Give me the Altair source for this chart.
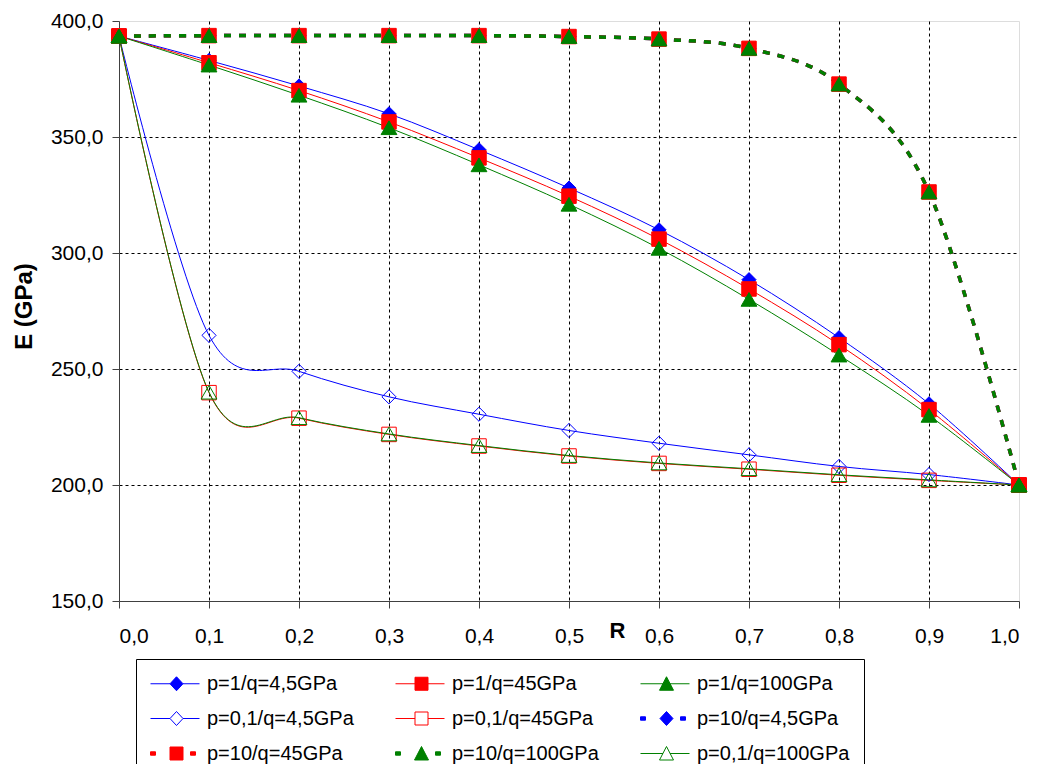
import altair as alt
import pandas as pd

# ---------------- data ----------------
R = [0.0, 0.1, 0.2, 0.3, 0.4, 0.5, 0.6, 0.7, 0.8, 0.9, 1.0]

series_names = [
    "p=1/q=4,5GPa", "p=1/q=45GPa", "p=1/q=100GPa",
    "p=0,1/q=4,5GPa", "p=0,1/q=45GPa", "p=10/q=4,5GPa",
    "p=10/q=45GPa", "p=10/q=100GPa", "p=0,1/q=100GPa",
]

E_p1_q4_5 = [393.5, 383.0, 372.0, 360.0, 344.5, 328.0, 310.0, 288.5, 263.5, 235.0, 200.0]
E_p1_q45 = [393.5, 382.0, 370.0, 356.5, 341.0, 324.5, 306.0, 284.5, 260.5, 232.5, 200.0]
E_p1_q100 = [393.5, 381.0, 368.0, 354.0, 338.0, 321.0, 302.0, 280.0, 256.0, 230.0, 200.0]
E_p01_q4_5 = [393.5, 264.5, 249.0, 238.0, 230.5, 223.5, 218.0, 213.0, 208.0, 204.5, 200.0]
E_p01_q45 = [393.5, 239.8, 228.8, 221.8, 216.8, 212.5, 209.3, 206.8, 204.2, 202.0, 200.0]
E_p10_q4_5 = [393.5, 393.7, 393.7, 393.7, 393.7, 393.3, 392.2, 388.2, 372.8, 326.3, 200.0]
E_p10_q45 = [393.5, 393.7, 393.7, 393.7, 393.7, 393.3, 392.2, 388.2, 372.8, 326.3, 200.0]
E_p10_q100 = [393.5, 393.7, 393.7, 393.7, 393.7, 393.3, 392.2, 388.2, 372.8, 326.3, 200.0]
E_p01_q100 = [393.5, 240.0, 229.0, 222.0, 217.0, 212.7, 209.5, 207.0, 204.4, 202.2, 200.0]

series_values = [E_p1_q4_5, E_p1_q45, E_p1_q100, E_p01_q4_5, E_p01_q45,
                 E_p10_q4_5, E_p10_q45, E_p10_q100, E_p01_q100]

x_ticks = [0.0, 0.1, 0.2, 0.3, 0.4, 0.5, 0.6, 0.7, 0.8, 0.9, 1.0]
y_ticks = [150, 200, 250, 300, 350, 400]

# ---------------- table built from the arrays ----------------
rows = []
for k, (name, vals) in enumerate(zip(series_names, series_values)):
    p = name.split("/")[0].replace("p=", "")
    q = name.split("/")[1].replace("q=", "").replace("GPa", "")
    for r, e in zip(R, vals):
        rows.append({"R": r, "E": e, "series": name, "p": p, "q": q, "k": k})
df = pd.DataFrame(rows)

# ---------------- styles (scale ranges) ----------------
BLUE, RED, GREEN = "#0000FF", "#FF0000", "#008000"
colors = [BLUE, RED, GREEN, BLUE, RED, BLUE, RED, GREEN, GREEN]
fills = [BLUE, RED, GREEN, "transparent", "transparent", BLUE, RED, GREEN, "transparent"]

# legend symbols: line segment + marker (custom SVG paths, 1 unit = sqrt(size)/2 px)
LINE_D = "M-1,0L0.95,0M2.25,0L3.9,0"
LINE_S = "M-1,0L0.95,0M2.25,0L3.9,0"
LINE_T = "M-1,0L1.25,0M1.95,0L3.9,0"
DIAM = "M1.6,-0.7L2.25,0L1.6,0.7L0.95,0Z"
SQR = "M0.95,-0.65L2.25,-0.65L2.25,0.65L0.95,0.65Z"
TRI = "M1.6,-0.7L2.3,0.65L0.9,0.65Z"
DASHES = "M-1,-0.17L-0.5,-0.17L-0.5,0.17L-1,0.17ZM3.0,-0.17L3.5,-0.17L3.5,0.17L3.0,0.17Z"
shapes = [
    LINE_D + DIAM, LINE_S + SQR, LINE_T + TRI,
    LINE_D + DIAM, LINE_S + SQR, DASHES + DIAM,
    DASHES + SQR, DASHES + TRI, LINE_T + TRI,
]

FONT = "Liberation Sans"

stroke_scale = alt.Scale(domain=series_names, range=colors)
fill_scale = alt.Scale(domain=series_names, range=fills)

xaxis = alt.Axis(
    values=x_ticks,
    labelExpr="replace(format(datum.value, '.1f'), '.', ',')",
    labelFont=FONT, labelFontSize=21, labelColor="black", labelPadding=17,
    tickSize=7, tickColor="#404040", domainColor="#404040", domainWidth=1,
    grid=True, gridColor="black", gridDash=[3, 3], gridWidth=1,
    gridOpacity={"condition": {"test": "datum.value <= 0.001 || datum.value >= 0.999", "value": 0}, "value": 1},
    title="R", titleFont=FONT, titleFontSize=22, titleFontWeight="bold", titleColor="black",
    titleX=498, titleY=36, titleBaseline="alphabetic", titleAlign="center",
)
yaxis = alt.Axis(
    values=y_ticks,
    labelExpr="replace(format(datum.value, '.1f'), '.', ',')",
    labelFont=FONT, labelFontSize=21, labelColor="black", labelPadding=9,
    tickSize=7, tickColor="#404040", domainColor="#404040", domainWidth=1,
    grid=True, gridColor="black", gridDash=[3, 3], gridWidth=1,
    gridOpacity={"condition": {"test": "datum.value <= 150 || datum.value >= 400", "value": 0}, "value": 1},
    title="E (GPa)", titleFont=FONT, titleFontSize=24, titleFontWeight="bold", titleColor="black",
    titleX=-95, titleY=285, titleBaseline="middle", titleAlign="center", titleAngle=270,
)

X = alt.X("R:Q", scale=alt.Scale(domain=[0, 1], nice=False, zero=False), axis=xaxis)
Y = alt.Y("E:Q", scale=alt.Scale(domain=[150, 400], nice=False, zero=False), axis=yaxis)
STROKE = alt.Stroke("series:N", scale=stroke_scale, legend=None)
FILL = alt.Fill("series:N", scale=fill_scale, legend=None)

base = alt.Chart(df)

leg = alt.Legend(
    title=None, orient="none", legendX=17, legendY=638, direction="horizontal",
    columns=3, columnPadding=39, rowPadding=14,
    labelFont=FONT, labelFontSize=20, labelColor="black", labelOffset=36,
    symbolSize=400, symbolStrokeWidth=1,
    strokeColor="black", fillColor="white", padding=14,
)
legend_layer = base.transform_filter("datum.R < -1").mark_point(strokeWidth=1, opacity=1).encode(
    x=X, y=Y,
    stroke=alt.Stroke("series:N", scale=stroke_scale, legend=leg),
    fill=alt.Fill("series:N", scale=fill_scale, legend=leg),
    shape=alt.Shape("series:N", scale=alt.Scale(domain=series_names, range=shapes), legend=leg),
)

solid_lines = base.transform_filter("datum.p != '10'").mark_line(
    interpolate="cardinal", tension=0, strokeWidth=1
).encode(x=X, y=Y, stroke=STROKE, order=alt.Order("R:Q"))

dashed_lines = base.transform_filter("datum.p == '10'").mark_line(
    interpolate="cardinal", tension=0, strokeWidth=3.5, strokeDash=[7, 8]
).encode(x=X, y=Y, stroke=STROKE, order=alt.Order("R:Q"))

diamonds = base.transform_filter("datum.q == '4,5'").mark_point(
    shape="diamond", size=200, strokeWidth=1, opacity=1
).encode(x=X, y=Y, stroke=STROKE, fill=FILL)
squares = base.transform_filter("datum.q == '45'").mark_point(
    shape="square", size=210, strokeWidth=1, opacity=1
).encode(x=X, y=Y, stroke=STROKE, fill=FILL)
triangles = base.transform_filter("datum.q == '100'").mark_point(
    shape="triangle-up", size=250, strokeWidth=1, opacity=1
).encode(x=X, y=Y, stroke=STROKE, fill=FILL)

chart = alt.layer(
    legend_layer, solid_lines, dashed_lines, diamonds, squares, triangles
).resolve_legend(
    stroke="independent", fill="independent", shape="independent"
).properties(
    width=900, height=580,
    autosize=alt.AutoSizeParams(type="none"),
    padding={"left": 111, "top": 13, "right": 11, "bottom": 163},
).configure_view(stroke="#a0a0a0", strokeWidth=1).configure(background="white")

chart.save("out.html", embed_options={"renderer": "svg", "actions": False})
